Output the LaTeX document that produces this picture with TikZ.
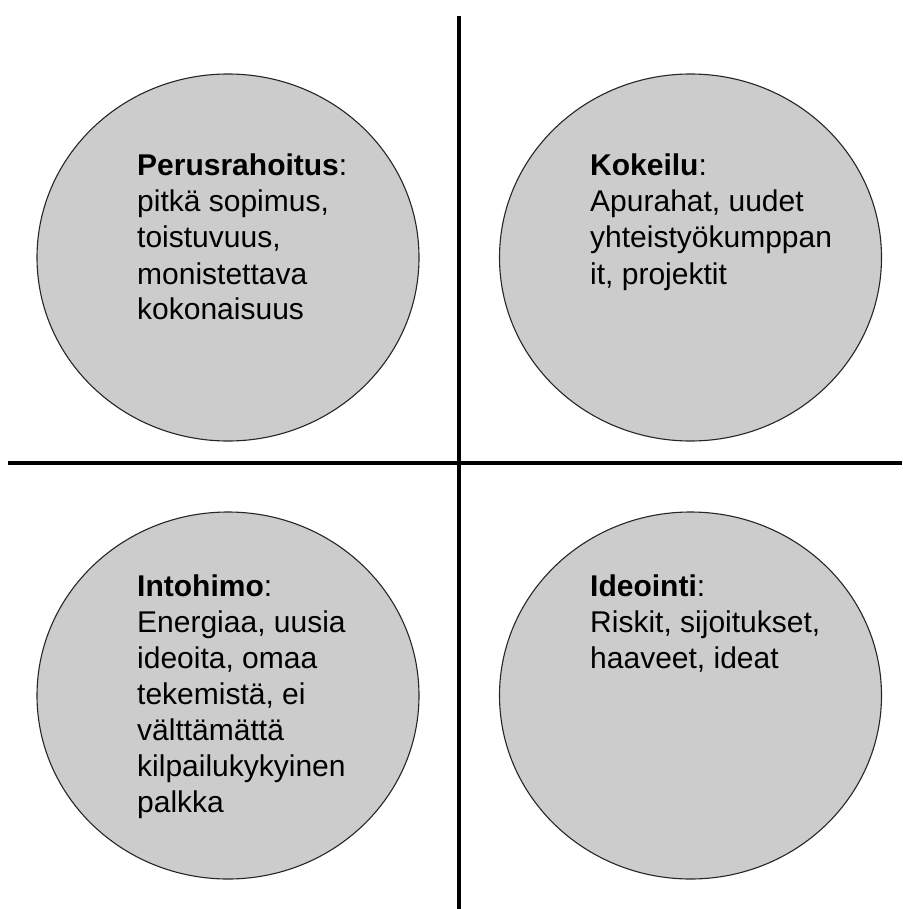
\documentclass[tikz,border=0pt]{standalone}
\usepackage{fontspec}
\setmainfont{Liberation Sans}
\usetikzlibrary{shapes.geometric}

\tikzset{
  quad/.style={ellipse, draw=black!85, line width=1.1pt, fill=black!20,
    minimum width=382pt, minimum height=367pt, inner sep=0pt},
  label text/.style={anchor=base west, inner sep=0pt,
    font=\fontsize{30}{36}\selectfont},
  axis/.style={line width=3.6pt, black}
}
% one line per box, first baseline is the node's base
\newcommand{\linesbox}[1]{\vtop{\baselineskip=36pt\halign{##\hfil\cr#1\crcr}}}

\begin{document}
\begin{tikzpicture}[x=1pt, y=-1pt]
  \useasboundingbox (0,0) rectangle (902,909);

  % quadrant circles
  \node[quad] (perus) at (228,257.5) {};
  \node[quad] (kokeilu) at (690.5,257.5) {};
  \node[quad] (intohimo) at (228,695.5) {};
  \node[quad] (ideointi) at (690.5,695.5) {};

  % axes
  \coordinate (vtop) at (459,16);
  \coordinate (vbot) at (459,909);
  \coordinate (hleft) at (8,463);
  \coordinate (hright) at (902,463);
  \draw[axis] (vtop) -- (vbot);
  \draw[axis] (hleft) -- (hright);

  % texts
  \node[label text] (tperus) at (137,176) {\linesbox{%
    \textbf{Perusrahoitus}:\cr
    pitkä sopimus,\cr
    toistuvuus,\cr
    monistettava\cr
    kokonaisuus}};
  \node[label text] (tkokeilu) at (590,176) {\linesbox{%
    \textbf{Kokeilu}:\cr
    Apurahat, uudet\cr
    yhteistyökumppan\cr
    it, projektit}};
  \node[label text] (tintohimo) at (137,596) {\linesbox{%
    \textbf{Intohimo}:\cr
    Energiaa, uusia\cr
    ideoita, omaa\cr
    tekemistä, ei\cr
    välttämättä\cr
    kilpailukykyinen\cr
    palkka}};
  \node[label text] (tideointi) at (590,596) {\linesbox{%
    \textbf{Ideointi}:\cr
    Riskit, sijoitukset,\cr
    haaveet, ideat}};
\end{tikzpicture}
\end{document}
